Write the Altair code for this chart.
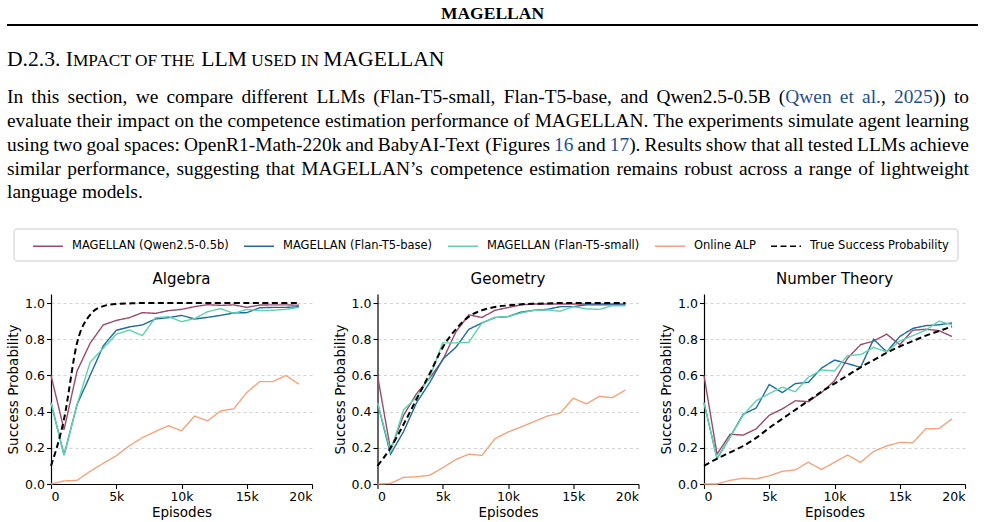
import altair as alt
import pandas as pd

# ---------------- data ----------------
episodes = [0, 1000, 2000, 3000, 4000, 5000, 6000, 7000, 8000, 9000,
            10000, 11000, 12000, 13000, 14000, 15000, 16000, 17000, 18000, 19000]

models = ["MAGELLAN (Qwen2.5-0.5b)", "MAGELLAN (Flan-T5-base)",
          "MAGELLAN (Flan-T5-small)", "Online ALP", "True Success Probability"]
colors = ["#9c4a6c", "#1f6e99", "#5ed3ae", "#f3a47a", "#000000"]
dashes = [[1, 0], [1, 0], [1, 0], [1, 0], [6, 3.5]]

panel_titles = ["Algebra", "Geometry", "Number Theory"]

alg_qwen = [0.60, 0.30, 0.625, 0.778, 0.879, 0.904, 0.919, 0.947, 0.943, 0.958,
            0.965, 0.980, 0.991, 0.987, 0.990, 0.976, 0.989, 0.990, 0.990, 0.988]
alg_base = [0.45, 0.16, 0.44, 0.60, 0.763, 0.849, 0.868, 0.879, 0.912, 0.919,
            0.932, 0.912, 0.921, 0.932, 0.945, 0.947, 0.974, 0.976, 0.976, 0.980]
alg_small = [0.45, 0.16, 0.44, 0.673, 0.75, 0.827, 0.851, 0.820, 0.919, 0.925,
             0.897, 0.914, 0.952, 0.969, 0.943, 0.965, 0.958, 0.960, 0.965, 0.976]
alg_alp = [0.0, 0.017, 0.02, 0.07, 0.114, 0.156, 0.211, 0.256, 0.29, 0.322,
           0.294, 0.375, 0.349, 0.404, 0.415, 0.505, 0.566, 0.566, 0.60, 0.551]
alg_true = [0.10, 0.36, 0.78, 0.935, 0.983, 0.995, 0.998, 1.0, 1.0, 1.0,
            1.0, 1.0, 1.0, 1.0, 1.0, 1.0, 1.0, 1.0, 1.0, 1.0]

geo_qwen = [0.60, 0.19, 0.38, 0.50, 0.585, 0.685, 0.84, 0.935, 0.92, 0.96,
            0.975, 0.99, 0.995, 0.995, 0.995, 0.995, 0.995, 0.995, 0.995, 0.995]
geo_base = [0.45, 0.165, 0.29, 0.45, 0.56, 0.69, 0.755, 0.855, 0.89, 0.92,
            0.925, 0.95, 0.96, 0.965, 0.98, 0.98, 0.99, 0.99, 0.99, 0.99]
geo_small = [0.45, 0.18, 0.41, 0.48, 0.59, 0.78, 0.78, 0.783, 0.89, 0.92,
             0.925, 0.945, 0.96, 0.962, 0.955, 0.98, 0.968, 0.965, 0.985, 0.985]
geo_alp = [0.0, 0.003, 0.037, 0.04, 0.048, 0.09, 0.135, 0.165, 0.158, 0.25,
           0.287, 0.315, 0.345, 0.375, 0.392, 0.474, 0.443, 0.484, 0.477, 0.52]
geo_true = [0.10, 0.20, 0.33, 0.47, 0.61, 0.755, 0.855, 0.925, 0.96, 0.978,
            0.987, 0.993, 0.996, 0.998, 1.0, 1.0, 1.0, 1.0, 1.0, 1.0]

nt_qwen = [0.60, 0.165, 0.275, 0.27, 0.305, 0.38, 0.415, 0.46, 0.455, 0.505,
           0.57, 0.695, 0.77, 0.79, 0.828, 0.77, 0.85, 0.855, 0.848, 0.815]
nt_base = [0.45, 0.14, 0.26, 0.385, 0.42, 0.55, 0.505, 0.555, 0.562, 0.64,
           0.685, 0.665, 0.645, 0.80, 0.73, 0.815, 0.86, 0.875, 0.88, 0.89]
nt_small = [0.45, 0.14, 0.26, 0.38, 0.46, 0.50, 0.535, 0.51, 0.59, 0.63,
            0.625, 0.71, 0.715, 0.755, 0.73, 0.79, 0.82, 0.85, 0.90, 0.88]
nt_alp = [0.0, 0.0, 0.02, 0.032, 0.028, 0.045, 0.07, 0.078, 0.12, 0.08,
          0.12, 0.16, 0.12, 0.18, 0.21, 0.23, 0.228, 0.305, 0.306, 0.36]
nt_true = [0.10, 0.14, 0.175, 0.21, 0.255, 0.31, 0.36, 0.41, 0.46, 0.51,
           0.555, 0.60, 0.645, 0.685, 0.725, 0.76, 0.79, 0.82, 0.845, 0.87]

panel_series = [
    [alg_qwen, alg_base, alg_small, alg_alp, alg_true],
    [geo_qwen, geo_base, geo_small, geo_alp, geo_true],
    [nt_qwen, nt_base, nt_small, nt_alp, nt_true],
]

# paragraph text (B = link colour)
K, B = "k", "b"
para_lines = [
    [[("In", K)], [("this", K)], [("section,", K)], [("we", K)], [("compare", K)],
     [("different", K)], [("LLMs", K)], [("(Flan-T5-small,", K)], [("Flan-T5-base,", K)],
     [("and", K)], [("Qwen2.5-0.5B", K)], [("(", K), ("Qwen", B)], [("et", B)],
     [("al.", B), (",", K)], [("2025", B), ("))", K)], [("to", K)]],
    [[(w, K)] for w in "evaluate their impact on the competence estimation performance of "
     "MAGELLAN. The experiments simulate agent learning".split()],
    [[(w, K)] for w in "using two goal spaces: OpenR1-Math-220k and BabyAI-Text (Figures".split()]
    + [[("16", B)], [("and", K)], [("17", B), (").", K)]]
    + [[(w, K)] for w in "Results show that all tested LLMs achieve".split()],
    [[(w, K)] for w in "similar performance, suggesting that MAGELLAN\u2019s competence "
     "estimation remains robust across a range of lightweight".split()],
    [[("language", K)], [("models.", K)]],
]

# ---------------- layout ----------------
W, H = 261, 190
OX, OY = 51, 294          # absolute position of first panel's plot origin
SANS = "DejaVu Sans"
SERIF = "Liberation Serif"
LINK = "#1f4f8f"
TEXT_L, TEXT_R = 7, 969

# Times / Liberation Serif advance widths (1/1000 em)
TW = {" ": 250, "(": 333, ")": 333, ",": 250, "-": 333, ".": 250, ":": 278,
      "\u2019": 333, "0": 500, "1": 500, "2": 500, "3": 500, "4": 500, "5": 500,
      "6": 500, "7": 500, "8": 500, "9": 500,
      "A": 722, "B": 667, "C": 667, "D": 722, "E": 611, "F": 556, "G": 722, "H": 722,
      "I": 333, "J": 389, "K": 722, "L": 611, "M": 889, "N": 722, "O": 722, "P": 556,
      "Q": 722, "R": 667, "S": 556, "T": 611, "U": 722, "V": 722, "W": 944, "X": 722,
      "Y": 722, "Z": 611,
      "a": 444, "b": 500, "c": 444, "d": 500, "e": 444, "f": 333, "g": 500, "h": 500,
      "i": 278, "j": 278, "k": 500, "l": 278, "m": 778, "n": 500, "o": 500, "p": 500,
      "q": 500, "r": 333, "s": 389, "t": 278, "u": 500, "v": 500, "w": 722, "x": 500,
      "y": 500, "z": 444}


def tw(s, size):
    return sum(TW.get(c, 500) for c in s) * size / 1000.0


def txt(s, x, y, size, font=SERIF, weight="normal", color="black",
        align="left", baseline="alphabetic"):
    return alt.Chart(pd.DataFrame({"t": [s]})).mark_text(
        font=font, fontSize=size, fontWeight=weight, color=color,
        align=align, baseline=baseline
    ).encode(text="t:N", x=alt.value(x - OX), y=alt.value(y - OY))


legend = alt.Legend(
    orient="none", legendX=32 - OX, legendY=245 - OY - 15,
    direction="horizontal", columns=5, symbolType="stroke", symbolSize=900,
    symbolStrokeWidth=1.5, labelFont=SANS, labelFontSize=11.5, labelColor="black",
    labelOffset=8, columnPadding=12, padding=0, title=None,
)


def text_layers():
    one = pd.DataFrame({"a": [0]})
    out = []
    out.append(alt.Chart(one).mark_rect(opacity=0).encode(
        x=alt.value(-OX), x2=alt.value(985 - OX),
        y=alt.value(-OY), y2=alt.value(522 - OY)))
    out.append(alt.Chart(one).mark_rule(color="black", strokeWidth=1.8).encode(
        x=alt.value(7 - OX), x2=alt.value(978 - OX), y=alt.value(25 - OY)))
    out.append(alt.Chart(one).mark_rect(
        fill="white", stroke="#cccccc", strokeWidth=1, cornerRadius=3).encode(
        x=alt.value(14 - OX), x2=alt.value(958 - OX),
        y=alt.value(229 - OY), y2=alt.value(261 - OY)))
    out.append(txt("MAGELLAN", 492.5, 18.5, 17.5, weight="bold", align="center"))
    # heading in small caps
    F, S = 21.6, 17.3
    segs = [("D.2.3. I", F, 0), ("MPACT OF THE", S, 1), ("LLM", F, 1),
            ("USED IN", S, 1), ("MAGELLAN", F, 0)]
    xx = TEXT_L
    for s, sz, space_after in segs:
        out.append(txt(s, xx, 65.5, sz))
        xx += tw(s, sz) + (tw(" ", S) if space_after else 0)
    # justified paragraph
    P = 19.4
    baselines = [103, 127, 151, 174.5, 198]
    for li, (words, yb) in enumerate(zip(para_lines, baselines)):
        widths = [sum(tw(t, P) for t, _ in w) for w in words]
        last = li == len(para_lines) - 1
        if last:
            gap = tw(" ", P)
        else:
            gap = (TEXT_R - TEXT_L - sum(widths)) / (len(words) - 1)
        xx = TEXT_L
        for w, wd in zip(words, widths):
            px = xx
            for t, c in w:
                out.append(txt(t, px, yb, P, color=LINK if c == B else "black"))
                px += tw(t, P)
            xx += wd + gap
    return out


def panel(idx):
    series = panel_series[idx]
    rows = []
    for m, vals in zip(models, series):
        for e, v in zip(episodes, vals):
            rows.append({"episode": e, "value": v, "model": m})
    df = pd.DataFrame(rows)
    first = idx == 0
    x = alt.X("episode:Q", scale=alt.Scale(domain=[0, 20000], nice=False, zero=False),
              axis=alt.Axis(values=[0, 5000, 10000, 15000, 20000],
                            labelExpr="datum.value == 0 ? '0' : (datum.value / 1000) + 'k'",
                            title="Episodes", grid=False))
    y = alt.Y("value:Q", scale=alt.Scale(domain=[0, 1.05], nice=False),
              axis=alt.Axis(values=[0, 0.2, 0.4, 0.6, 0.8, 1.0], format=".1f",
                            title="Success Probability", grid=True,
                            gridDash=[3, 3], gridColor="#c8c8c8", gridWidth=0.8))
    color = alt.Color("model:N", scale=alt.Scale(domain=models, range=colors),
                      legend=legend if first else None)
    dash = alt.StrokeDash("model:N", scale=alt.Scale(domain=models, range=dashes),
                          legend=legend if first else None)
    solid = alt.Chart(df[df.model != models[4]]).mark_line(strokeWidth=1.4).encode(
        x=x, y=y, color=color, strokeDash=dash)
    true = alt.Chart(df[df.model == models[4]]).mark_line(
        strokeWidth=2, interpolate="monotone").encode(
        x=x, y=y, color=color, strokeDash=dash)
    title = alt.Chart(pd.DataFrame({"t": [panel_titles[idx]]})).mark_text(
        font=SANS, fontSize=15, color="black", baseline="alphabetic"
    ).encode(text="t:N", x=alt.value(W / 2), y=alt.value(-10))

    layers = text_layers() if first else []
    layers += [solid, true, title]
    return alt.layer(*layers).properties(width=W, height=H)


chart = alt.hconcat(panel(0), panel(1), panel(2), spacing=65.5, bounds="flush").resolve_scale(
    color="independent", strokeDash="independent"
).properties(padding=0, background="white").configure_view(stroke=None).configure_axis(
    domainColor="black", domainWidth=1.2, tickColor="black", tickWidth=1.1, tickSize=4.5,
    labelFont=SANS, labelFontSize=12.5, labelColor="black", labelPadding=2,
    titleFont=SANS, titleFontSize=13.5, titleFontWeight="normal", titleColor="black",
).configure_axisY(titlePadding=4).configure_axisX(titlePadding=2)

chart.save("out.html", embed_options={"renderer": "svg", "actions": False})
